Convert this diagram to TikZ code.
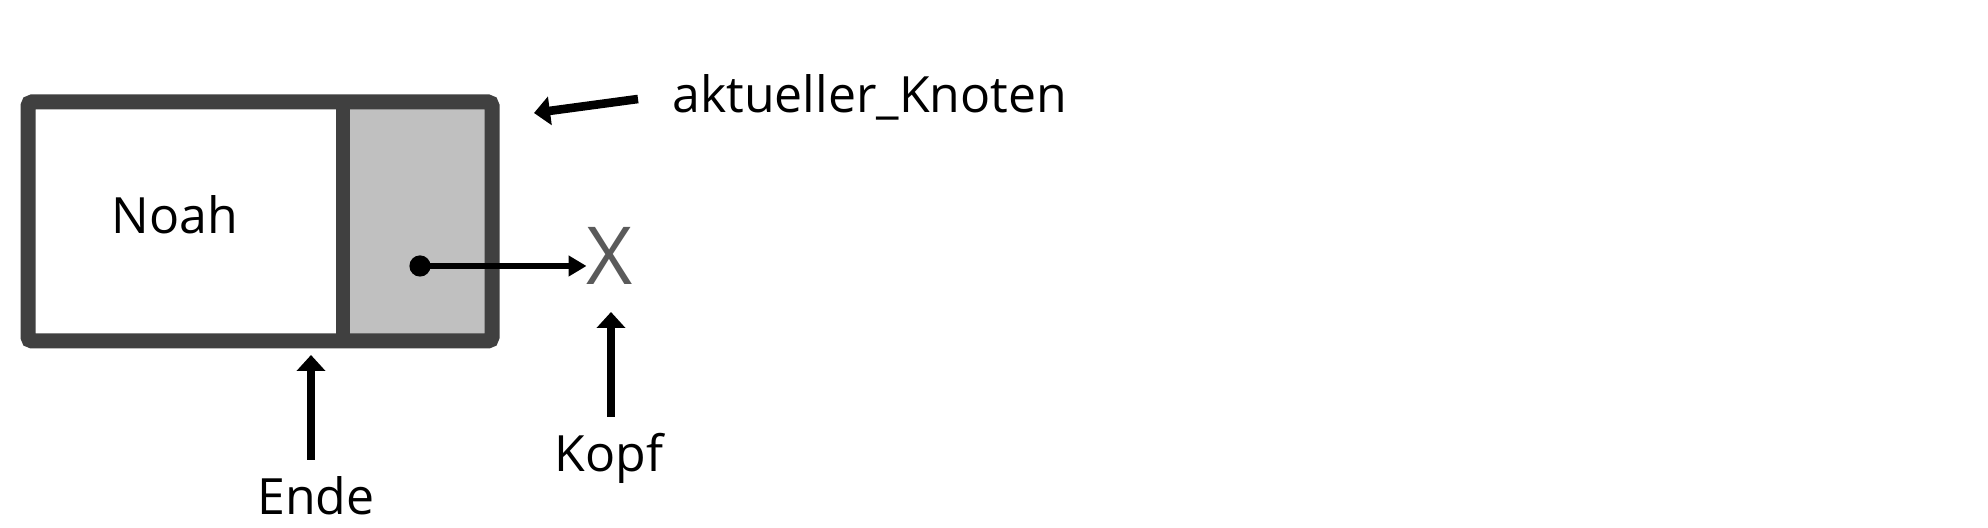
\documentclass[tikz,border=0pt]{standalone}
\usepackage{fontspec}
\setmainfont{Open Sans}
\usetikzlibrary{arrows.meta}
\definecolor{border}{HTML}{404040}
\definecolor{cellgray}{HTML}{C0C0C0}
\definecolor{xgray}{HTML}{5A5A5A}
\begin{document}
\begin{tikzpicture}[x=0.5pt,y=-0.5pt,
  lbl/.style={inner sep=0pt,font=\fontsize{25}{30}\selectfont},
  arr/.style={line width=4.3pt,-{Triangle[width=14pt,length=8pt]}},
  ptrarr/.style={line width=3pt,-{Triangle[width=10pt,length=9pt]}},
  frame/.style={draw=border,line width=7.5pt,rounded corners=2pt}]
\useasboundingbox[fill=white] (0,0) rectangle (1988,528);
% cells
\fill[cellgray] (343,102) rectangle (492,341);
\draw[frame] (28,102) rectangle (492,341);
\draw[border,line width=7pt] (343,102) -- (343,341);
% texts
\node[lbl,anchor=base] (noah) at (175,234) {Noah};
\node[lbl,anchor=base west] (akt) at (672,113) {aktueller\_Knoten};
\node[lbl,anchor=base] (kopf) at (609,472) {Kopf};
\node[lbl,anchor=base] (ende) at (316,515) {Ende};
\node[inner sep=0pt,text=xgray,font=\fontsize{40}{48}\selectfont,anchor=base] (nil) at (610,285) {X};
% pointer
\coordinate (dot) at (420,266);
\fill (dot) circle (5.3pt);
\draw[ptrarr] (dot) -- (nil.west|-dot);
% label arrows
\coordinate (aktTail) at (638,99);
\coordinate (aktTip) at (534,113);
\draw[arr] (aktTail) -- (aktTip);
\coordinate (kopfTail) at (611,417);
\coordinate (kopfTip) at (611,312);
\draw[arr] (kopfTail) -- (kopfTip);
\coordinate (endeTail) at (311,460);
\coordinate (endeTip) at (311,355);
\draw[arr] (endeTail) -- (endeTip);
\end{tikzpicture}
\end{document}
